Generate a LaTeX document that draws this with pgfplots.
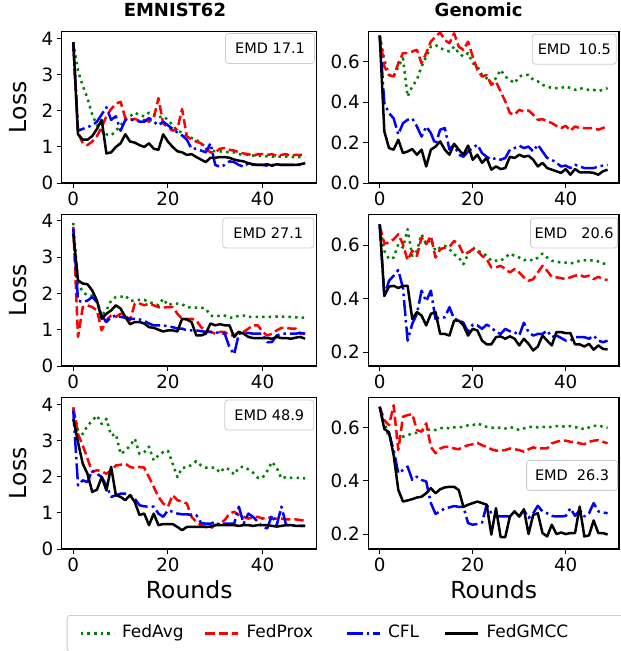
\documentclass[border=0pt]{standalone}
\usepackage{fontspec}
\setmainfont{DejaVu Sans}
\usepackage{pgfplots}
\usepackage{pgfplotstable}
\pgfplotsset{compat=1.18}
\definecolor{mgreen}{HTML}{008000}
\newcommand\tickfont{\fontsize{18.3}{22}\selectfont}
\newcommand\labfont{\fontsize{23.5}{28}\selectfont}
\newcommand\titfont{\fontsize{18}{22}\selectfont\bfseries}
\newcommand\emdfont{\fontsize{14.5}{17}\selectfont}
\newcommand\legfont{\fontsize{17}{20}\selectfont}

\pgfplotstableread{
r avg prox cfl gmcc
0 3.90 3.90 3.90 3.90
1 3.10 1.40 1.45 1.35
2 2.70 1.10 1.50 1.20
3 2.35 1.05 1.55 1.20
4 1.90 1.15 1.60 1.30
5 1.60 1.30 1.70 1.50
6 1.45 1.55 1.90 1.75
7 1.35 1.85 2.10 0.82
8 1.32 2.05 1.75 0.85
9 1.45 2.20 1.85 1.00
10 1.60 2.25 1.45 1.10
11 1.75 1.80 1.75 1.35
12 1.85 1.75 1.75 1.15
13 1.95 1.78 1.75 1.12
14 1.88 1.72 1.70 1.05
15 1.85 1.75 1.70 1.00
16 1.95 1.70 1.80 1.10
17 1.90 1.80 1.70 0.95
18 1.82 2.35 1.60 0.92
19 1.85 1.65 1.70 1.35
20 1.75 1.55 1.60 1.15
21 1.60 1.45 1.50 1.00
22 1.45 1.50 1.40 0.88
23 1.40 2.05 1.32 0.85
24 1.30 1.30 1.20 0.78
25 1.25 1.20 0.95 0.80
26 1.20 1.15 0.95 0.72
27 1.10 1.10 0.90 0.65
28 1.00 0.95 0.85 0.58
29 0.90 0.85 1.10 0.70
30 0.88 0.85 0.50 0.70
31 0.88 0.95 0.45 0.72
32 0.86 0.97 0.50 0.72
33 0.85 0.92 0.60 0.70
34 0.85 0.90 0.58 0.65
35 0.80 0.85 0.50 0.62
36 0.78 0.82 0.45 0.60
37 0.78 0.80 0.55 0.55
38 0.76 0.75 0.50 0.52
39 0.75 0.80 0.50 0.50
40 0.75 0.80 0.50 0.50
41 0.74 0.78 0.48 0.52
42 0.73 0.80 0.50 0.48
43 0.73 0.75 0.50 0.52
44 0.73 0.78 0.50 0.50
45 0.73 0.80 0.50 0.50
46 0.72 0.75 0.50 0.50
47 0.72 0.78 0.50 0.50
48 0.72 0.78 0.50 0.52
49 0.72 0.80 0.55 0.55
}\dataA

\pgfplotstableread{
r avg prox cfl gmcc
0 0.73 0.73 0.73 0.73
1 0.61 0.577 0.395 0.255
2 0.535 0.535 0.346 0.173
3 0.527 0.527 0.32 0.165
4 0.577 0.593 0.24 0.214
5 0.618 0.643 0.296 0.148
6 0.428 0.643 0.313 0.156
7 0.478 0.651 0.32 0.168
8 0.511 0.659 0.28 0.14
9 0.577 0.593 0.23 0.165
10 0.626 0.643 0.28 0.082
11 0.675 0.70 0.247 0.165
12 0.684 0.725 0.19 0.18
13 0.667 0.745 0.264 0.206
14 0.659 0.708 0.272 0.165
15 0.651 0.692 0.165 0.14
16 0.675 0.741 0.19 0.194
17 0.643 0.675 0.14 0.165
18 0.626 0.659 0.13 0.14
19 0.643 0.70 0.156 0.185
20 0.593 0.626 0.173 0.115
21 0.577 0.56 0.19 0.14
22 0.535 0.527 0.148 0.10
23 0.519 0.535 0.13 0.124
24 0.494 0.486 0.115 0.066
25 0.519 0.502 0.124 0.082
26 0.56 0.453 0.115 0.069
27 0.527 0.404 0.124 0.074
28 0.511 0.346 0.165 0.13
29 0.494 0.338 0.173 0.124
30 0.527 0.362 0.185 0.14
31 0.535 0.354 0.173 0.13
32 0.535 0.359 0.18 0.135
33 0.511 0.338 0.156 0.115
34 0.503 0.313 0.19 0.082
35 0.486 0.316 0.156 0.10
36 0.478 0.305 0.124 0.074
37 0.47 0.297 0.115 0.066
38 0.47 0.283 0.10 0.058
39 0.47 0.272 0.082 0.05
40 0.478 0.283 0.086 0.069
41 0.47 0.259 0.074 0.041
42 0.461 0.28 0.09 0.069
43 0.47 0.272 0.082 0.053
44 0.465 0.272 0.074 0.053
45 0.461 0.272 0.074 0.053
46 0.461 0.272 0.074 0.05
47 0.456 0.264 0.082 0.041
48 0.461 0.272 0.086 0.058
49 0.47 0.283 0.09 0.066
}\dataB

\pgfplotstableread{
r avg prox cfl gmcc
0 3.94 3.83 3.78 3.64
1 2.27 0.80 1.80 2.36
2 2.04 1.62 1.76 2.27
3 1.94 1.67 1.80 2.25
4 1.94 1.62 1.90 2.08
5 1.80 1.53 1.76 1.80
6 1.39 0.98 1.39 1.30
7 1.53 1.26 1.21 1.44
8 1.80 1.39 1.35 1.53
9 1.90 1.35 1.39 1.67
10 1.90 1.44 1.35 1.58
11 1.94 1.39 1.33 1.35
12 1.80 1.26 1.30 1.15
13 1.80 1.72 1.30 1.21
14 1.82 1.72 1.28 1.21
15 1.82 1.67 1.24 1.17
16 1.76 1.72 1.17 1.07
17 1.72 1.67 1.12 1.05
18 1.67 1.62 1.12 1.00
19 1.85 1.61 1.12 0.95
20 1.67 1.62 1.09 0.98
21 1.72 1.62 1.07 0.98
22 1.72 1.44 1.03 0.95
23 1.70 1.30 1.03 1.30
24 1.62 1.30 0.98 1.28
25 1.61 1.30 0.98 1.21
26 1.61 1.26 0.98 0.84
27 1.61 1.07 0.96 0.84
28 1.58 0.98 0.94 0.89
29 1.39 0.94 0.94 1.17
30 1.36 0.89 0.94 1.12
31 1.39 0.94 0.89 1.15
32 1.39 0.94 0.89 1.12
33 1.33 0.84 0.52 1.12
34 1.33 0.84 0.32 0.80
35 1.39 0.94 0.89 0.94
36 1.39 0.94 0.91 0.89
37 1.35 1.03 0.91 0.80
38 1.35 1.12 0.89 0.77
39 1.35 1.12 0.89 0.77
40 1.35 0.94 0.89 0.77
41 1.36 0.84 0.66 0.77
42 1.35 0.89 0.66 0.75
43 1.36 0.98 0.84 0.80
44 1.36 1.05 0.89 0.77
45 1.35 1.05 0.89 0.77
46 1.35 1.03 0.89 0.75
47 1.34 1.03 0.89 0.78
48 1.33 0.89 0.91 0.80
49 1.33 0.89 0.89 0.75
}\dataC

\pgfplotstableread{
r avg prox cfl gmcc
0 0.678 0.672 0.678 0.678
1 0.579 0.606 0.41 0.41
2 0.548 0.61 0.467 0.445
3 0.554 0.622 0.486 0.448
4 0.604 0.641 0.507 0.44
5 0.591 0.604 0.44 0.448
6 0.66 0.544 0.243 0.448
7 0.56 0.579 0.306 0.324
8 0.579 0.56 0.343 0.35
9 0.641 0.629 0.43 0.337
10 0.604 0.604 0.39 0.30
11 0.622 0.635 0.43 0.343
12 0.579 0.554 0.324 0.35
13 0.591 0.585 0.33 0.268
14 0.598 0.591 0.33 0.268
15 0.585 0.594 0.368 0.262
16 0.566 0.616 0.324 0.318
17 0.554 0.604 0.32 0.318
18 0.529 0.566 0.31 0.30
19 0.566 0.573 0.275 0.262
20 0.591 0.585 0.303 0.287
21 0.579 0.579 0.30 0.281
22 0.573 0.56 0.287 0.243
23 0.56 0.548 0.303 0.229
24 0.542 0.517 0.293 0.229
25 0.542 0.517 0.275 0.256
26 0.542 0.523 0.268 0.259
27 0.554 0.511 0.287 0.25
28 0.569 0.498 0.278 0.259
29 0.56 0.511 0.275 0.25
30 0.554 0.498 0.262 0.225
31 0.544 0.48 0.31 0.25
32 0.548 0.467 0.275 0.231
33 0.542 0.473 0.262 0.206
34 0.554 0.498 0.268 0.221
35 0.569 0.523 0.268 0.262
36 0.554 0.504 0.281 0.243
37 0.542 0.482 0.256 0.225
38 0.539 0.48 0.262 0.275
39 0.535 0.477 0.253 0.275
40 0.535 0.473 0.243 0.271
41 0.532 0.48 0.243 0.271
42 0.535 0.486 0.256 0.229
43 0.542 0.489 0.256 0.229
44 0.544 0.482 0.256 0.221
45 0.542 0.486 0.25 0.231
46 0.544 0.473 0.262 0.209
47 0.539 0.482 0.243 0.225
48 0.532 0.473 0.237 0.212
49 0.529 0.47 0.243 0.21
}\dataD

\pgfplotstableread{
r avg prox cfl gmcc
0 3.87 3.92 3.83 3.60
1 3.28 3.18 1.76 2.95
2 3.18 2.86 1.90 2.36
3 3.41 2.50 1.85 2.08
4 3.55 2.13 2.17 1.58
5 3.69 2.18 2.08 1.64
6 3.46 2.15 1.99 1.99
7 3.60 2.08 1.76 1.62
8 3.14 2.18 1.44 2.27
9 3.18 2.31 1.49 1.49
10 2.63 2.33 1.53 1.44
11 2.72 2.36 1.53 1.35
12 2.86 2.27 1.49 1.49
13 3.05 2.24 1.39 1.30
14 2.63 2.27 1.21 0.94
15 2.68 2.25 1.18 0.98
16 2.83 1.99 1.17 0.66
17 2.45 1.72 1.17 0.98
18 2.59 1.44 0.98 0.66
19 2.68 1.26 0.89 0.69
20 2.72 1.17 1.07 0.69
21 2.36 1.49 1.03 0.69
22 1.99 1.35 0.98 0.61
23 2.25 1.31 0.96 0.52
24 2.25 1.26 0.96 0.61
25 2.33 0.89 0.94 0.61
26 2.43 0.75 0.94 0.61
27 2.31 0.66 0.72 0.61
28 2.25 0.61 0.70 0.61
29 2.25 0.57 0.70 0.62
30 2.25 0.66 0.75 0.66
31 2.11 0.70 0.66 0.66
32 2.25 0.80 0.70 0.66
33 2.20 0.98 0.70 0.66
34 2.06 1.03 0.70 0.66
35 2.25 0.94 1.17 0.64
36 2.28 0.89 0.70 0.66
37 2.20 0.84 0.98 0.66
38 2.11 0.89 0.89 0.64
39 1.97 0.89 0.75 0.66
40 1.97 0.84 0.61 0.66
41 2.16 0.89 0.57 0.66
42 2.41 0.84 0.94 0.64
43 2.25 0.84 0.66 0.62
44 1.95 0.84 1.17 0.64
45 1.99 0.82 0.66 0.66
46 1.97 0.82 0.66 0.66
47 1.97 0.82 0.64 0.64
48 1.97 0.80 0.64 0.64
49 1.95 0.78 0.64 0.64
}\dataE

\pgfplotstableread{
r avg prox cfl gmcc
0 0.677 0.677 0.677 0.677
1 0.621 0.627 0.60 0.594
2 0.559 0.608 0.577 0.582
3 0.559 0.683 0.515 0.496
4 0.565 0.515 0.428 0.366
5 0.565 0.64 0.44 0.322
6 0.571 0.646 0.453 0.326
7 0.577 0.65 0.403 0.331
8 0.58 0.59 0.415 0.337
9 0.587 0.584 0.403 0.34
10 0.59 0.615 0.397 0.353
11 0.592 0.527 0.316 0.372
12 0.59 0.503 0.276 0.353
13 0.596 0.521 0.285 0.368
14 0.60 0.527 0.297 0.375
15 0.596 0.527 0.30 0.377
16 0.60 0.521 0.305 0.377
17 0.60 0.518 0.302 0.365
18 0.602 0.527 0.302 0.302
19 0.608 0.533 0.241 0.31
20 0.608 0.537 0.235 0.316
21 0.615 0.542 0.238 0.322
22 0.608 0.533 0.243 0.316
23 0.602 0.527 0.31 0.31
24 0.60 0.518 0.278 0.198
25 0.596 0.513 0.266 0.297
26 0.60 0.513 0.266 0.189
27 0.596 0.515 0.266 0.189
28 0.602 0.521 0.266 0.266
29 0.596 0.518 0.285 0.285
30 0.59 0.515 0.266 0.266
31 0.596 0.509 0.29 0.293
32 0.602 0.518 0.26 0.20
33 0.602 0.525 0.278 0.272
34 0.60 0.521 0.306 0.278
35 0.602 0.521 0.285 0.204
36 0.60 0.521 0.278 0.191
37 0.602 0.54 0.268 0.235
38 0.605 0.546 0.266 0.20
39 0.605 0.55 0.266 0.206
40 0.602 0.55 0.268 0.20
41 0.605 0.546 0.297 0.204
42 0.60 0.546 0.268 0.204
43 0.60 0.54 0.29 0.303
44 0.592 0.537 0.266 0.191
45 0.60 0.546 0.278 0.195
46 0.605 0.55 0.316 0.251
47 0.608 0.552 0.285 0.204
48 0.602 0.546 0.281 0.204
49 0.598 0.54 0.278 0.198
}\dataF

\tikzset{
  s1/.style={mgreen, dash pattern=on 2.5pt off 4.1pt},
  s2/.style={red, dash pattern=on 9.25pt off 4pt},
  s3/.style={blue, dash pattern=on 16pt off 4pt on 2.5pt off 4pt},
  s4/.style={black, solid},
  emd/.style={draw=black!20, line width=0.8pt, rounded corners=3pt, fill=white, fill opacity=0.8, text opacity=1, font=\emdfont, minimum height=30pt, inner xsep=0pt, align=center},
}
\pgfplotsset{
  sub/.style={
    scale only axis, height=151.5pt, anchor=south west,
    xmin=-2.45, xmax=51.45, xtick={0,20,40},
    tick align=outside, tick pos=left,
    major tick length=5pt,
    every tick/.style={black, line width=1pt},
    axis line style={line width=1.1pt},
    tick label style={font=\tickfont},
    /pgf/number format/assume math mode=true,
    every axis plot/.append style={line width=2.5pt, line join=round, no marks},
    label style={font=\labfont},
    title style={font=\titfont, anchor=center},
  },
  lc/.style={width=255pt, ytick={0,1,2,3,4}, ylabel={Loss},
    ylabel style={at={(axis description cs:-0.171,0.5)}, anchor=center}},
  rc/.style={width=250.7pt},
}
\newcommand\fourplots[1]{%
  \addplot[s1] table[x=r,y=avg]{#1};
  \addplot[s2] table[x=r,y=prox]{#1};
  \addplot[s3] table[x=r,y=cfl]{#1};
  \addplot[s4] table[x=r,y=gmcc]{#1};
}

\begin{document}
\begin{tikzpicture}
\path[use as bounding box] (0pt,0pt) rectangle (621pt,-651pt);

\begin{axis}[sub, lc, at={(61.7pt,-183pt)}, ymin=0, ymax=4.2,
  title={EMNIST62}, title style={at={(axis description cs:0.444,1.102)}}]
\fourplots{\dataA}
\node[emd, minimum width=89pt, anchor=north east] at (rel axis cs:0.993,0.99) {EMD 17.1};
\end{axis}

\begin{axis}[sub, rc, at={(368.3pt,-183pt)}, ymin=0, ymax=0.75,
  ytick={0,0.2,0.4,0.6}, yticklabels={0.0,0.2,0.4,0.6},
  title={Genomic}, title style={at={(axis description cs:0.44,1.102)}}]
\fourplots{\dataB}
\node[emd, minimum width=84pt, anchor=north east] at (rel axis cs:0.991,0.985) {EMD\hspace{8pt}10.5};
\end{axis}

\begin{axis}[sub, lc, at={(61.7pt,-366pt)}, ymin=0, ymax=4.17]
\fourplots{\dataC}
\node[emd, minimum width=91pt, anchor=north east] at (rel axis cs:0.99,0.98) {EMD 27.1};
\end{axis}

\begin{axis}[sub, rc, at={(368.3pt,-366pt)}, ymin=0.148, ymax=0.715,
  ytick={0.2,0.4,0.6}, yticklabels={0.2,0.4,0.6}]
\fourplots{\dataD}
\node[emd, minimum width=87pt, anchor=north east] at (rel axis cs:0.996,0.98) {EMD\hspace{14pt}20.6};
\end{axis}

\begin{axis}[sub, lc, at={(61.7pt,-549pt)}, ymin=0, ymax=4.19,
  xlabel={Rounds}, xlabel style={at={(axis description cs:0.5,-0.27)}, anchor=center},
  legend columns=4,
  legend image code/.code={\draw[#1] (0pt,0pt) -- (33pt,0pt);},
  legend style={at={(axis description cs:0.0196,-0.4356)}, anchor=north west,
    draw=black!20, line width=0.8pt, rounded corners=3pt, font=\legfont,
    inner xsep=12.5pt, inner ysep=10pt,
    nodes={inner sep=0pt, text height=12.5pt, text depth=3.5pt},
    column sep=0pt,
    /tikz/every odd column/.append style={column sep=7pt}},
  ]
\fourplots{\dataE}
\addlegendentry{\makebox[82pt][l]{FedAvg}}
\addlegendentry{\makebox[99pt][l]{FedProx}}
\addlegendentry{\makebox[56pt][l]{CFL}}
\addlegendentry{\makebox[160pt][l]{FedGMCC}}
\node[emd, minimum width=89pt, anchor=north east] at (rel axis cs:0.99,0.986) {EMD 48.9};
\end{axis}

\begin{axis}[sub, rc, at={(368.3pt,-549pt)}, ymin=0.144, ymax=0.712,
  ytick={0.2,0.4,0.6}, yticklabels={0.2,0.4,0.6},
  xlabel={Rounds}, xlabel style={at={(axis description cs:0.5,-0.27)}, anchor=center}]
\fourplots{\dataF}
\node[emd, minimum width=91pt, anchor=east] at (rel axis cs:0.996,0.486) {EMD\hspace{9pt}26.3};
\end{axis}
\end{tikzpicture}
\end{document}
